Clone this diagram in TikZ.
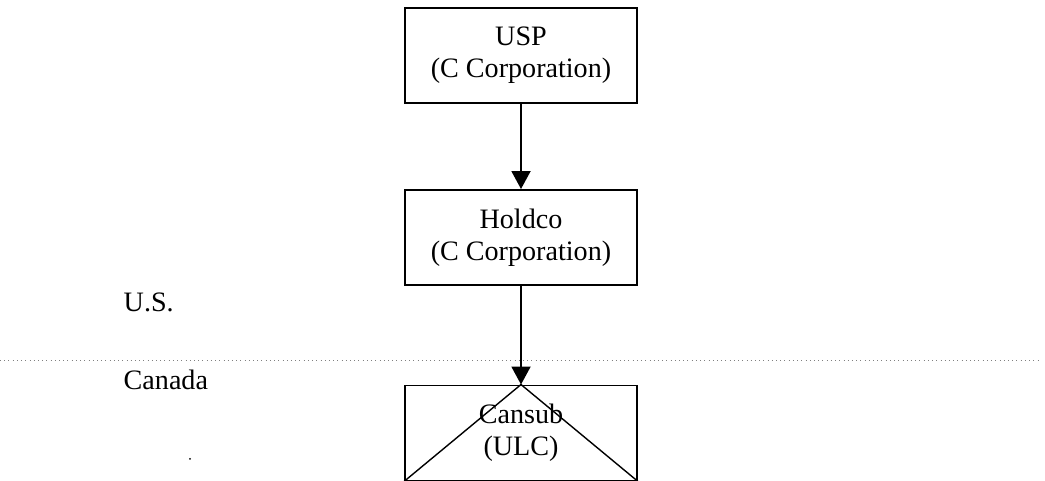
\documentclass[tikz,border=0pt]{standalone}
\usepackage{fontspec}
\setmainfont{Liberation Serif}
\usetikzlibrary{arrows.meta}
\tikzset{
  entity/.style={draw,line width=1.1pt,minimum width=4.64cm,minimum height=1.9cm,
    align=center,inner sep=0pt,font=\fontsize{16}{18}\selectfont},
  owns/.style={line width=1.1pt,-{Triangle[width=0.38cm,length=0.36cm]}},
}
\begin{document}
\begin{tikzpicture}
\useasboundingbox (0,0) rectangle (20.9,9.62);
\node[entity] (usp) at (10.42,8.51) {USP\\(C Corporation)};
\node[entity] (holdco) at (10.42,4.87) {Holdco\\(C Corporation)};
\node[entity] (cansub) at (10.42,0.96)
  {\raisebox{0.16cm}{\begin{tabular}{@{}c@{}}Cansub\\(ULC)\end{tabular}}};
\draw[line width=0.8pt] (cansub.south west) -- (cansub.north) -- (cansub.south east);
\draw[owns] (usp) -- (holdco);
\draw[owns] (holdco) -- (cansub.north);
% border line
\coordinate (bl) at (0,2.42);
\coordinate (br) at (20.76,2.42);
\draw[dotted,line width=0.4pt,gray] (bl) -- (br);
\node[anchor=west,font=\fontsize{16}{18}\selectfont] (us) at (2.35,3.58) {U.S.};
\node[anchor=west,font=\fontsize{16}{18}\selectfont] (ca) at (2.35,2.02) {Canada};
\fill (3.8,0.44) circle (0.02);
\end{tikzpicture}
\end{document}
